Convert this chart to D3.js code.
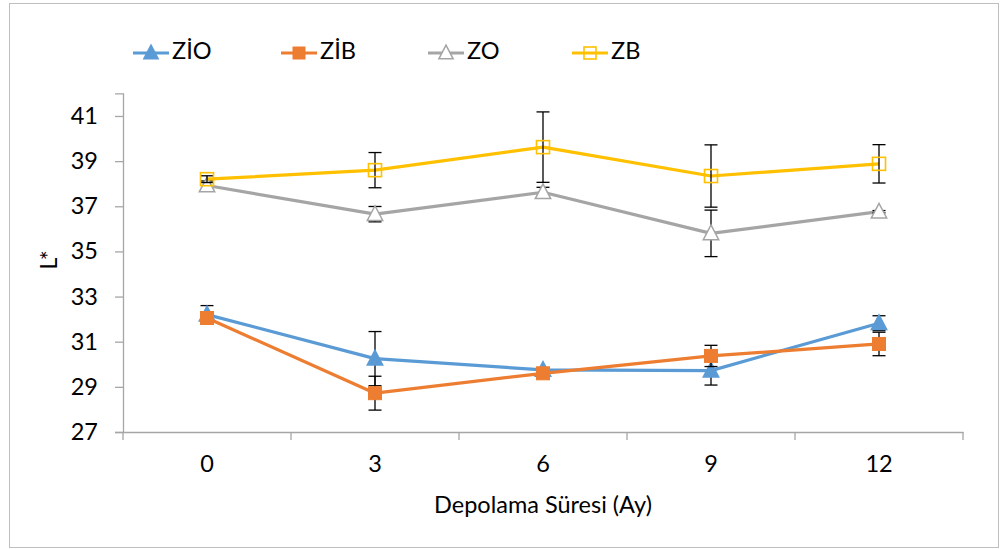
<!DOCTYPE html>
<html><head><meta charset="utf-8">
<script src="https://cdn.jsdelivr.net/npm/d3@7"></script>
<style>body{margin:0;background:#fff;} text{font-family:Lato, "Open Sans", sans-serif;}</style>
</head><body>
<svg id="c" width="1000" height="549"></svg>
<script>
const categories = ["0","3","6","9","12"];
const seriesNames = ["ZİO","ZİB","ZO","ZB"];
const ZIO = [32.2, 30.25, 29.75, 29.72, 31.82];
const ZIO_err = [0.4, 1.2, 0.1, 0.64, 0.33];
const ZIB = [32.05, 28.72, 29.6, 30.37, 30.9];
const ZIB_err = [0.1, 0.75, 0.1, 0.47, 0.52];
const ZO = [37.92, 36.65, 37.62, 35.8, 36.76];
const ZO_err = [0.2, 0.34, 0.22, 1.03, 0.05];
const ZB = [38.2, 38.6, 39.62, 38.34, 38.88];
const ZB_err = [0.15, 0.78, 1.56, 1.38, 0.85];
const yTicks = [27,29,31,33,35,37,39,41];

const series = [
  {name: seriesNames[0], vals: ZIO, err: ZIO_err, color: "#5B9BD5", marker: "tri", fill: true},
  {name: seriesNames[1], vals: ZIB, err: ZIB_err, color: "#ED7D31", marker: "sq", fill: true},
  {name: seriesNames[2], vals: ZO, err: ZO_err, color: "#A5A5A5", marker: "tri", fill: false},
  {name: seriesNames[3], vals: ZB, err: ZB_err, color: "#FFC000", marker: "sq", fill: false}
];

const FS = 23.5;
const svg = d3.select("#c");
svg.append("rect").attr("x",9.5).attr("y",3.5).attr("width",989).attr("height",544)
  .attr("fill","#fff").attr("stroke","#BFBFBF").attr("stroke-width",1);

const x = d3.scaleBand().domain(categories).range([123,963]);
const y = d3.scaleLinear().domain([27,42]).range([432,93.4]);
const axisColor = "#A6A6A6";

// y axis
const yAxis = svg.append("g").attr("transform","translate(123,0)")
  .call(d3.axisLeft(y).tickValues(yTicks).tickSize(8).tickPadding(17).tickFormat(d3.format("d")));
yAxis.select(".domain").attr("stroke",axisColor).attr("stroke-width",1.3);
yAxis.selectAll(".tick line").attr("stroke",axisColor).attr("stroke-width",1.3);
yAxis.selectAll("text").attr("font-size",FS).attr("fill","#000").attr("font-family","Lato");

// x axis
const xAxis = svg.append("g").attr("transform","translate(0,432)")
  .call(d3.axisBottom(x).tickSize(0).tickPadding(0));
xAxis.select(".domain").attr("stroke",axisColor).attr("stroke-width",1.3);
xAxis.selectAll("text").attr("font-size",FS).attr("fill","#000").attr("font-family","Lato")
  .attr("y",34).attr("dy",0).attr("dominant-baseline","middle");
// category boundary ticks
const bounds = categories.map(c => x(c)).concat([x.range()[1]]);
svg.append("g").selectAll("line").data(bounds).join("line")
  .attr("x1",d=>d).attr("x2",d=>d).attr("y1",432).attr("y2",440)
  .attr("stroke",axisColor).attr("stroke-width",1.3);

const cx = c => x(c) + x.bandwidth()/2;

// axis titles
svg.append("text").attr("x",543).attr("y",507).attr("text-anchor","middle")
  .attr("dominant-baseline","middle").attr("font-size",FS).text("Depolama Süresi (Ay)");
svg.append("text").attr("transform","translate(57,260) rotate(-90)").attr("text-anchor","middle")
  .attr("font-size",FS).text("L*");

const line = d3.line().x((d,i)=>cx(categories[i])).y(d=>y(d));

function marker(g, type, color, fill, px, py, size) {
  if (type === "tri") {
    const h = size;
    g.append("path")
      .attr("d", `M${px},${py-h*0.6} L${px+h*0.55},${py+h*0.45} L${px-h*0.55},${py+h*0.45} Z`)
      .attr("fill", fill ? color : "#fff").attr("stroke", color).attr("stroke-width", 1.5);
  } else {
    const s = size;
    g.append("rect").attr("x",px-s/2).attr("y",py-s/2).attr("width",s).attr("height",s)
      .attr("fill", fill ? color : "none").attr("stroke", color).attr("stroke-width", fill?1:1.6);
  }
}

series.forEach(s => {
  const g = svg.append("g");
  g.append("path").datum(s.vals).attr("d",line).attr("fill","none")
    .attr("stroke",s.color).attr("stroke-width",3.2).attr("stroke-linejoin","round");
  // error bars
  s.vals.forEach((v,i) => {
    const px = cx(categories[i]);
    const y1 = y(v + s.err[i]), y2 = y(v - s.err[i]);
    g.append("line").attr("x1",px).attr("x2",px).attr("y1",y1).attr("y2",y2).attr("stroke","#000").attr("stroke-width",1.3);
    [y1,y2].forEach(yy => g.append("line").attr("x1",px-6.5).attr("x2",px+6.5).attr("y1",yy).attr("y2",yy)
      .attr("stroke","#000").attr("stroke-width",1.3));
  });
  s.vals.forEach((v,i) => marker(g, s.marker, s.color, s.fill, cx(categories[i]), y(v), s.marker==="tri"?14:13));
});

// legend
const legX = [133, 281, 428, 572];
const legY = 53;
series.forEach((s,i) => {
  const g = svg.append("g");
  g.append("line").attr("x1",legX[i]).attr("x2",legX[i]+36).attr("y1",legY).attr("y2",legY)
    .attr("stroke",s.color).attr("stroke-width",3.2);
  marker(g, s.marker, s.color, s.fill, legX[i]+18, legY, s.marker==="tri"?13:12);
  g.append("text").attr("x",legX[i]+39).attr("y",legY).attr("dominant-baseline","middle")
    .attr("font-size",FS).text(s.name);
});
</script>
</body></html>
